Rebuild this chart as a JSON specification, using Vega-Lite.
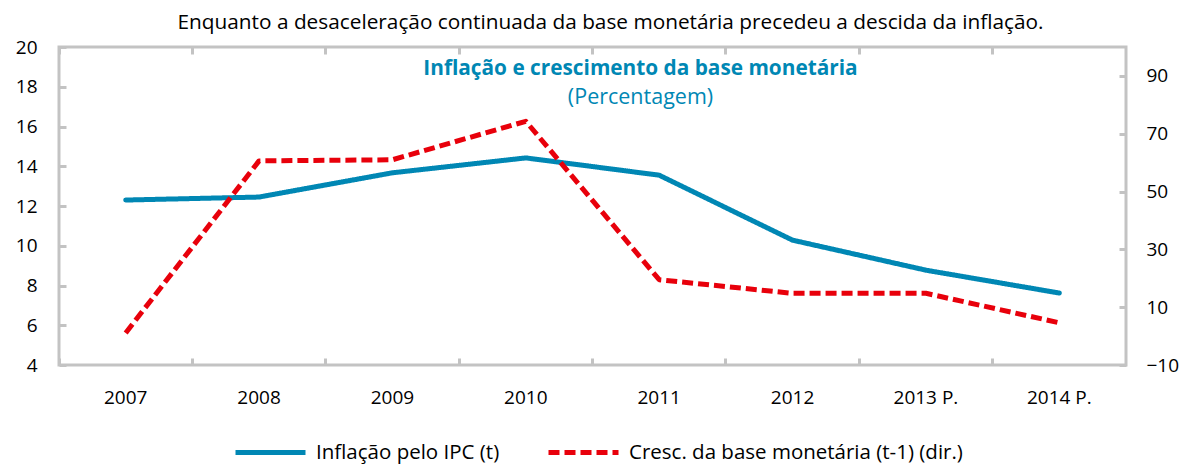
{
  "$schema": "https://vega.github.io/schema/vega-lite/v6.json",
  "width": 1067,
  "height": 318,
  "autosize": {"type": "none"},
  "padding": {"left": 59, "top": 47, "right": 56, "bottom": 100},
  "background": "white",
  "config": {
    "view": {"stroke": "#c3c3c3", "strokeWidth": 3},
    "font": "Open Sans",
    "axis": {
      "domain": false,
      "grid": false,
      "tickColor": "#c3c3c3",
      "tickWidth": 3,
      "tickSize": -7,
      "labelFont": "Open Sans",
      "labelFontSize": 19,
      "labelColor": "#000000"
    }
  },
  "title": {
    "text": "Inflação e crescimento da base monetária",
    "subtitle": "(Percentagem)",
    "anchor": "middle",
    "frame": "group",
    "dx": 48,
    "offset": -98,
    "font": "Open Sans",
    "fontSize": 20.8,
    "fontWeight": "bold",
    "color": "#0087b4",
    "subtitleFont": "Open Sans",
    "subtitleFontSize": 21.5,
    "subtitleColor": "#0087b4",
    "subtitlePadding": 7
  },
  "data": {
    "values": [
      {"ano": "2007", "serie": "Inflação pelo IPC (t)", "valor": 12.3},
      {"ano": "2008", "serie": "Inflação pelo IPC (t)", "valor": 12.45},
      {"ano": "2009", "serie": "Inflação pelo IPC (t)", "valor": 13.67},
      {"ano": "2010", "serie": "Inflação pelo IPC (t)", "valor": 14.42},
      {"ano": "2011", "serie": "Inflação pelo IPC (t)", "valor": 13.55},
      {"ano": "2012", "serie": "Inflação pelo IPC (t)", "valor": 10.28},
      {"ano": "2013 P.", "serie": "Inflação pelo IPC (t)", "valor": 8.77},
      {"ano": "2014 P.", "serie": "Inflação pelo IPC (t)", "valor": 7.62},
      {"ano": "2007", "serie": "Cresc. da base monetária (t-1) (dir.)", "valor": 1.1},
      {"ano": "2008", "serie": "Cresc. da base monetária (t-1) (dir.)", "valor": 60.6},
      {"ano": "2009", "serie": "Cresc. da base monetária (t-1) (dir.)", "valor": 61.0},
      {"ano": "2010", "serie": "Cresc. da base monetária (t-1) (dir.)", "valor": 74.3},
      {"ano": "2011", "serie": "Cresc. da base monetária (t-1) (dir.)", "valor": 19.5},
      {"ano": "2012", "serie": "Cresc. da base monetária (t-1) (dir.)", "valor": 14.8},
      {"ano": "2013 P.", "serie": "Cresc. da base monetária (t-1) (dir.)", "valor": 14.8},
      {"ano": "2014 P.", "serie": "Cresc. da base monetária (t-1) (dir.)", "valor": 4.6}
    ]
  },
  "layer": [
    {
      "transform": [{"filter": "datum.serie == 'Inflação pelo IPC (t)'"}],
      "mark": {"type": "line", "strokeWidth": 5, "strokeCap": "round", "strokeJoin": "miter"},
      "encoding": {
        "x": {
          "field": "ano", "type": "ordinal", "sort": null, "bandPosition": 0.5,
          "scale": {"type": "band", "paddingInner": 0, "paddingOuter": 0},
          "axis": {"orient": "bottom", "bandPosition": 0, "labelAngle": 0, "labelPadding": 30, "title": null}
        },
        "y": {
          "field": "valor", "type": "quantitative",
          "scale": {"domain": [4, 20], "nice": false, "zero": false},
          "axis": {"orient": "left", "values": [4, 6, 8, 10, 12, 14, 16, 18, 20], "labelPadding": 29, "title": null}
        },
        "color": {
          "field": "serie", "type": "nominal",
          "scale": {"domain": ["Inflação pelo IPC (t)", "Cresc. da base monetária (t-1) (dir.)"], "range": ["#0087b4", "#e8000b"]},
          "legend": {
            "orient": "none", "legendX": 174, "legendY": 368, "direction": "horizontal", "title": null,
            "symbolType": "stroke", "symbolSize": 4900, "symbolStrokeWidth": 5,
            "labelFont": "Open Sans", "labelFontSize": 20.5, "labelColor": "#000000", "labelOffset": 8,
            "columnPadding": 38, "labelLimit": 400
          }
        },
        "strokeDash": {
          "field": "serie", "type": "nominal",
          "scale": {"domain": ["Inflação pelo IPC (t)", "Cresc. da base monetária (t-1) (dir.)"], "range": [[1, 0], [11, 5]]},
          "legend": null
        }
      }
    },
    {
      "transform": [{"filter": "datum.serie == 'Cresc. da base monetária (t-1) (dir.)'"}],
      "mark": {"type": "line", "strokeWidth": 5, "strokeCap": "butt", "strokeJoin": "round"},
      "encoding": {
        "x": {
          "field": "ano", "type": "ordinal", "sort": null, "bandPosition": 0.5,
          "scale": {"type": "band", "paddingInner": 0, "paddingOuter": 0},
          "axis": {
            "orient": "top", "bandPosition": 0, "labels": false,
            "title": "Enquanto a desaceleração continuada da base monetária precedeu a descida da inflação.",
            "titleFont": "Open Sans", "titleFontSize": 20.8, "titleFontWeight": "normal", "titleColor": "#000000",
            "titleX": 551, "titleY": -25, "titleBaseline": "middle", "titleAnchor": "middle"
          }
        },
        "y": {
          "field": "valor", "type": "quantitative",
          "scale": {"domain": [-10, 100], "nice": false, "zero": false},
          "axis": {"orient": "right", "values": [-10, 10, 30, 50, 70, 90], "labelPadding": 27, "title": null}
        },
        "color": {"field": "serie", "type": "nominal"},
        "strokeDash": {"field": "serie", "type": "nominal", "legend": null}
      }
    }
  ],
  "resolve": {"scale": {"y": "independent"}, "axis": {"x": "independent"}}
}
